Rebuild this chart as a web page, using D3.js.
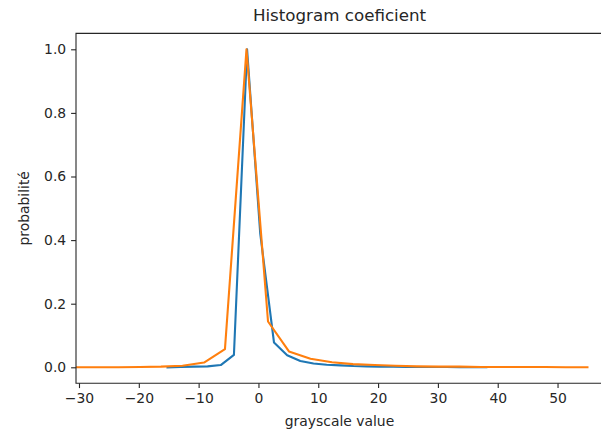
<!DOCTYPE html>
<html><head><meta charset="utf-8">
<script src="https://cdn.jsdelivr.net/npm/d3@7"></script>
<style>body{margin:0;background:#fff;overflow:hidden}svg{display:block}text{font-family:"DejaVu Sans",sans-serif;fill:#262626}</style>
</head><body>
<script>
const titleText = "Histogram coeficient";
const xLabel = "grayscale value";
const yLabel = "probabilité";
const xTicks = [-30,-20,-10,0,10,20,30,40,50];
const yTicks = [0.0,0.2,0.4,0.6,0.8,1.0];
const blueX = [-15.2,-13.0,-10.8,-8.5,-6.3,-4.1,-1.9,0.3,2.6,4.8,7.0,9.2,11.4,13.7,15.9,18.1,20.3,22.5,24.8,27.0,29.2,31.4,33.6,35.9,38.1];
const blueY = [0.000,0.001,0.002,0.003,0.007,0.039,1.0,0.42,0.078,0.038,0.020,0.012,0.008,0.006,0.004,0.003,0.002,0.002,0.001,0.001,0.001,0.001,0.000,0.000,0.000];
const orangeX = [-30.5,-26.9,-23.4,-19.8,-16.3,-12.7,-9.1,-5.6,-2.0,1.6,5.1,8.7,12.3,15.8,19.4,22.9,26.5,30.1,33.6,37.2,40.8,44.3,47.9,51.4,55.0];
const orangeY = [0.000,0.000,0.000,0.001,0.002,0.005,0.015,0.057,1.0,0.144,0.050,0.027,0.016,0.010,0.007,0.005,0.003,0.002,0.002,0.001,0.001,0.001,0.001,0.000,0.000];

const W = 601, H = 435;
const L = 76, R = 603, T = 33.4, B = 383.2;
const svg = d3.select("body").append("svg").attr("width", W).attr("height", H);
const x = d3.scaleLinear().domain([-30.5, 57.6]).range([L, R]);
const y = d3.scaleLinear().domain([-0.05, 1.05]).range([B, T]);

svg.append("defs").append("clipPath").attr("id","c").append("rect")
  .attr("x", L).attr("y", T).attr("width", R-L).attr("height", B-T);

const line = d3.line().x(d => x(d[0])).y(d => y(d[1]));
const g = svg.append("g").attr("clip-path","url(#c)");
g.append("path").datum(blueX.map((v,i)=>[v,blueY[i]]))
  .attr("d", line).attr("fill","none").attr("stroke","#1f77b4").attr("stroke-width",2.1).attr("stroke-linejoin","round").attr("stroke-linecap","square");
g.append("path").datum(orangeX.map((v,i)=>[v,orangeY[i]]))
  .attr("d", line).attr("fill","none").attr("stroke","#ff7f0e").attr("stroke-width",2.1).attr("stroke-linejoin","round").attr("stroke-linecap","square");

const xa = svg.append("g").attr("transform",`translate(0,${B})`)
  .call(d3.axisBottom(x).tickValues(xTicks).tickFormat(d3.format("d")).tickSize(4.9).tickPadding(4.9));
const ya = svg.append("g").attr("transform",`translate(${L},0)`)
  .call(d3.axisLeft(y).tickValues(yTicks).tickFormat(d3.format(".1f")).tickSize(4.9).tickPadding(4.9));
[xa, ya].forEach(a => {
  a.select(".domain").remove();
  a.selectAll(".tick line").attr("stroke","#262626").attr("stroke-width",1.1);
  a.selectAll(".tick text").attr("font-size","13.9px").attr("font-family","DejaVu Sans").attr("fill","#262626");
});

svg.append("path").attr("d", `M${W+5},${T}H${L}V${B}H${W+5}`)
  .attr("fill","none").attr("stroke","#262626").attr("stroke-width",1.1);

svg.append("text").attr("x",(L+R)/2).attr("y",T-12).attr("text-anchor","middle")
  .attr("font-size","16.7px").text(titleText);
svg.append("text").attr("x",(L+R)/2).attr("y",426).attr("text-anchor","middle")
  .attr("font-size","13.9px").text(xLabel);
svg.append("text").attr("transform",`translate(29,${(T+B)/2}) rotate(-90)`).attr("text-anchor","middle")
  .attr("font-size","13.9px").text(yLabel);
</script>
</body></html>
